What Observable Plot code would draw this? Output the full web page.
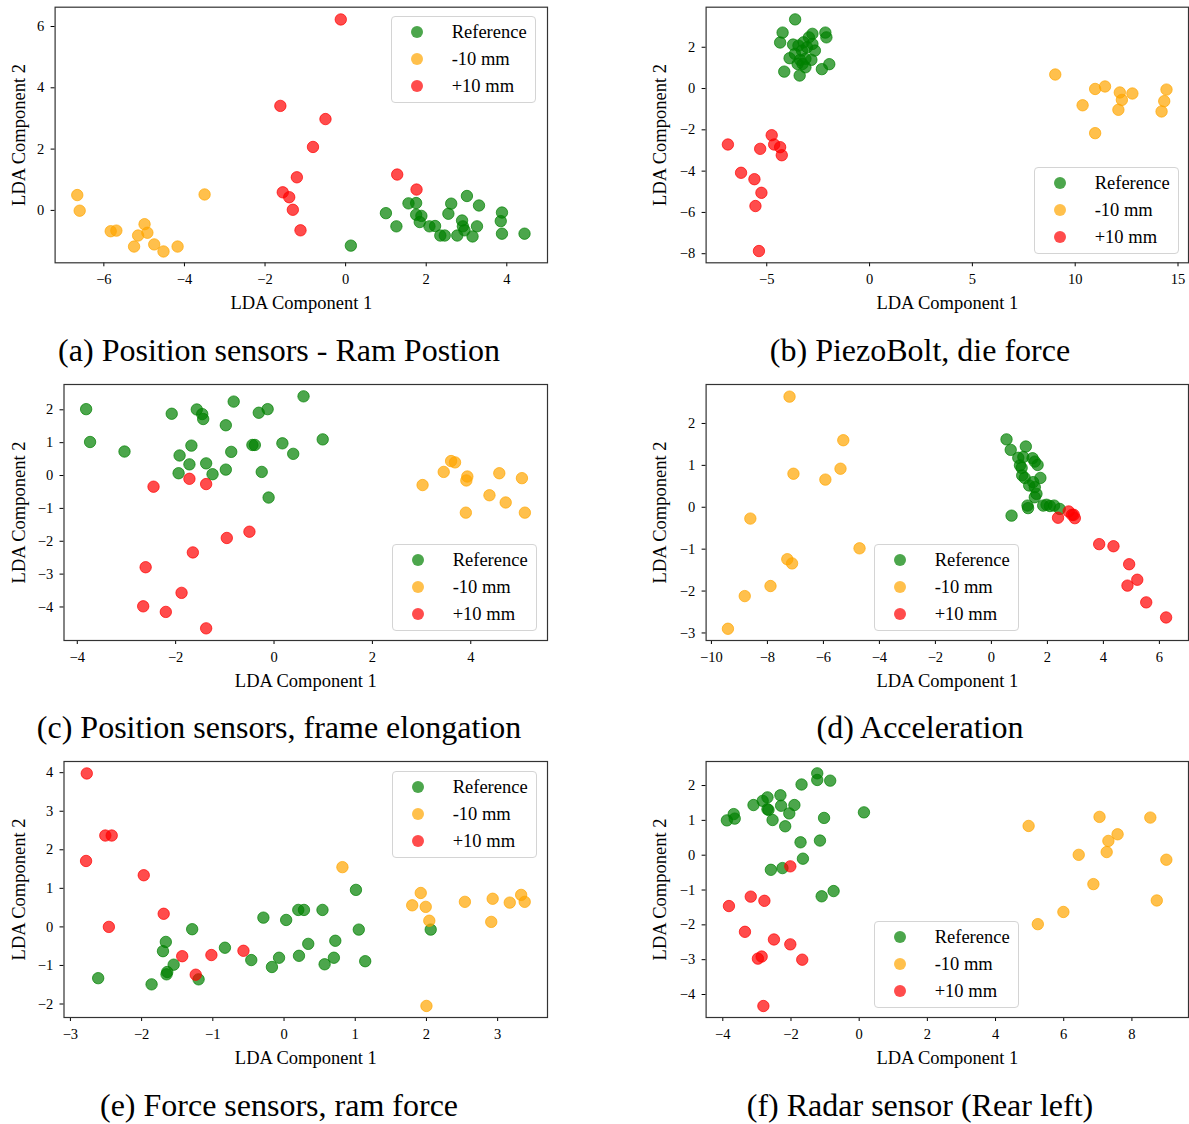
<!DOCTYPE html>
<html><head><meta charset="utf-8">
<script src="https://cdn.jsdelivr.net/npm/d3@7"></script>
<script src="https://cdn.jsdelivr.net/npm/@observablehq/plot@0.6"></script>
<style>
html,body{margin:0;padding:0;background:#fff;}
#fig{position:relative;width:1189px;height:1124px;overflow:hidden;font-family:"Liberation Serif","Times New Roman",serif;color:#000;}
.panel{position:absolute;}
.panel svg{overflow:visible;max-width:none;}
[aria-label="x-axis label"], [aria-label="y-axis label"]{font-size:18.5px;}
.legend{position:absolute;box-sizing:border-box;width:145px;height:87px;border:1px solid #d4d4d4;border-radius:4px;background:rgba(255,255,255,0.8);}
.legend .mk{position:absolute;width:12.4px;height:12.4px;border-radius:50%;}
.legend .lb{position:absolute;font-size:18.5px;white-space:nowrap;line-height:18.5px;}
.cap{position:absolute;width:640px;text-align:center;font-size:32px;line-height:32px;white-space:nowrap;}
</style></head><body><div id="fig"></div>
<script>
// ---------- data (LDA component 1, LDA component 2) ----------
const classes = ["Reference", "-10 mm", "+10 mm"];
const classColors = ["#008000", "#FFA500", "#FF0000"];
const axisLabelX = "LDA Component 1";
const axisLabelY = "LDA Component 2";

const a_ref = [[0.13,-1.15],[1.00,-0.09],[1.26,-0.52],[1.56,0.23],[1.75,0.24],[1.75,-0.14],[1.88,-0.18],[1.84,-0.38],[2.08,-0.52],[2.22,-0.51],[2.35,-0.82],[2.46,-0.82],[2.55,-0.11],[2.62,0.22],[3.01,0.47],[3.31,0.16],[2.89,-0.33],[2.91,-0.52],[2.77,-0.82],[2.95,-0.65],[3.15,-0.85],[3.26,-0.52],[3.88,-0.07],[3.85,-0.35],[3.88,-0.76],[4.44,-0.76]];
const a_m10 = [[-6.66,0.50],[-6.60,-0.01],[-3.50,0.52],[-5.83,-0.68],[-5.69,-0.66],[-4.99,-0.45],[-5.15,-0.82],[-4.92,-0.73],[-5.25,-1.18],[-4.75,-1.11],[-4.52,-1.34],[-4.17,-1.18]];
const a_p10 = [[-0.12,6.23],[-1.62,3.41],[-0.50,2.98],[-0.81,2.07],[-1.21,1.08],[1.28,1.17],[1.76,0.68],[-1.56,0.59],[-1.40,0.43],[-1.31,0.02],[-1.12,-0.65]];

const b_ref = [[-3.62,3.35],[-4.23,2.71],[-4.35,2.23],[-2.15,2.71],[-2.10,2.48],[-1.96,1.18],[-2.32,0.94],[-4.15,0.82],[-3.40,0.63],[-3.89,1.47],[-3.72,2.13],[-2.78,2.65],[-2.95,2.48],[-2.66,1.84],[-2.83,1.39],[-3.12,1.03],[-3.29,1.84],[-3.21,2.24],[-3.46,2.08],[-3.63,1.68],[-3.38,1.39],[-3.12,1.44],[-3.26,1.19],[-3.04,2.00],[-3.50,1.19],[-2.78,2.16]];
const b_m10 = [[9.03,0.68],[10.97,-0.02],[11.45,0.10],[12.17,-0.19],[12.27,-0.55],[12.78,-0.24],[10.36,-0.81],[12.10,-1.03],[10.97,-2.16],[14.44,-0.05],[14.33,-0.61],[14.20,-1.11]];
const b_p10 = [[-6.89,-2.71],[-5.32,-2.92],[-4.76,-2.26],[-4.64,-2.71],[-4.35,-2.84],[-4.27,-3.23],[-6.25,-4.08],[-5.60,-4.39],[-5.26,-5.05],[-5.55,-5.69],[-5.38,-7.87]];

const c_ref = [[-3.82,2.02],[-3.74,1.02],[-3.04,0.73],[-2.08,1.88],[-1.57,2.01],[-1.46,1.87],[-1.44,1.72],[-0.98,1.53],[-0.82,2.25],[-0.31,1.91],[-0.13,2.02],[0.60,2.41],[0.99,1.10],[0.17,0.98],[0.39,0.66],[-0.44,0.93],[-0.39,0.93],[-1.68,0.91],[-1.92,0.61],[-0.87,0.72],[-1.72,0.34],[-1.38,0.37],[-1.94,0.07],[-1.25,0.04],[-0.98,0.18],[-0.25,0.11],[-0.11,-0.67]];
const c_m10 = [[3.02,-0.29],[3.45,0.11],[3.60,0.44],[3.68,0.40],[3.93,-0.03],[3.91,-0.15],[3.90,-1.13],[4.38,-0.60],[4.58,0.07],[4.71,-0.82],[5.04,-0.08],[5.10,-1.13]];
const c_p10 = [[-2.45,-0.34],[-1.72,-0.10],[-1.38,-0.26],[-0.50,-1.71],[-0.96,-1.90],[-1.65,-2.34],[-2.61,-2.79],[-1.88,-3.57],[-2.66,-3.98],[-2.20,-4.15],[-1.38,-4.65]];

const d_ref = [[0.54,1.62],[0.69,1.37],[1.23,1.45],[0.96,1.18],[1.14,1.20],[1.47,1.17],[1.55,1.09],[1.65,1.01],[1.02,1.00],[1.08,0.94],[1.10,0.76],[1.19,0.70],[1.75,0.70],[1.35,0.52],[1.55,0.48],[1.61,0.32],[1.55,0.24],[1.29,0.04],[1.31,-0.02],[1.85,0.04],[1.97,0.06],[2.09,0.03],[2.24,0.04],[2.44,-0.04],[0.72,-0.20],[1.49,0.60]];
const d_m10 = [[-7.21,2.64],[-5.29,1.60],[-5.39,0.92],[-7.07,0.80],[-5.93,0.66],[-8.61,-0.27],[-4.71,-0.98],[-7.29,-1.24],[-7.12,-1.34],[-7.89,-1.88],[-8.81,-2.12],[-9.41,-2.90]];
const d_p10 = [[2.38,-0.25],[2.76,-0.10],[2.88,-0.18],[2.98,-0.26],[2.94,-0.18],[3.85,-0.88],[4.36,-0.93],[4.92,-1.36],[5.21,-1.73],[4.86,-1.87],[5.53,-2.27],[6.24,-2.63]];

const e_ref = [[-2.61,-1.33],[-1.86,-1.49],[-1.66,-0.39],[-1.70,-0.63],[-1.55,-0.98],[-1.64,-1.17],[-1.65,-1.23],[-1.29,-0.06],[-1.20,-1.36],[-0.83,-0.54],[-0.46,-0.86],[-0.29,0.24],[-0.17,-1.04],[-0.07,-0.80],[0.03,0.18],[0.21,-0.75],[0.20,0.44],[0.28,0.44],[0.34,-0.44],[0.54,0.44],[0.57,-0.97],[0.70,-0.80],[0.72,-0.36],[1.01,0.96],[1.05,-0.07],[1.14,-0.89],[2.06,-0.07]];
const e_m10 = [[0.82,1.55],[1.92,0.88],[1.80,0.56],[1.99,0.52],[2.04,0.16],[2.54,0.65],[2.93,0.73],[2.91,0.13],[3.17,0.63],[3.33,0.83],[3.38,0.65],[2.00,-2.05]];
const e_p10 = [[-2.77,3.98],[-2.51,2.37],[-2.42,2.37],[-2.78,1.71],[-1.97,1.34],[-1.69,0.34],[-2.46,0.00],[-1.43,-0.76],[-1.02,-0.73],[-0.57,-0.62],[-1.24,-1.24]];

const f_ref = [[-3.88,1.00],[-3.68,1.18],[-3.65,1.05],[-3.10,1.44],[-2.83,1.56],[-2.69,1.66],[-2.69,1.32],[-2.66,1.30],[-2.54,1.01],[-2.31,1.72],[-2.29,1.42],[-1.90,1.44],[-2.05,1.20],[-2.17,0.83],[-1.69,2.03],[-1.23,2.35],[-1.23,2.16],[-0.85,2.14],[-1.03,1.07],[0.14,1.23],[-1.72,0.37],[-1.15,0.42],[-1.65,-0.10],[-2.59,-0.42],[-2.25,-0.37],[-1.10,-1.18],[-0.75,-1.03]];
const f_m10 = [[4.97,0.84],[5.24,-1.98],[5.99,-1.63],[6.44,0.01],[6.87,-0.83],[7.05,1.10],[7.31,0.41],[7.26,0.09],[7.58,0.60],[8.54,1.08],[8.73,-1.30],[9.01,-0.13]];
const f_p10 = [[-2.02,-0.32],[-3.18,-1.19],[-2.78,-1.31],[-3.82,-1.46],[-3.35,-2.20],[-2.50,-2.42],[-2.02,-2.56],[-2.97,-2.97],[-2.86,-2.91],[-1.67,-3.00],[-2.81,-4.33]];

const a_xticks = [-6,-4,-2,0,2,4],          a_yticks = [0,2,4,6];
const b_xticks = [-5,0,5,10,15],            b_yticks = [-8,-6,-4,-2,0,2];
const c_xticks = [-4,-2,0,2,4],             c_yticks = [-4,-3,-2,-1,0,1,2];
const d_xticks = [-10,-8,-6,-4,-2,0,2,4,6], d_yticks = [-3,-2,-1,0,1,2];
const e_xticks = [-3,-2,-1,0,1,2,3],        e_yticks = [-2,-1,0,1,2,3,4];
const f_xticks = [-4,-2,0,2,4,6,8],         f_yticks = [-4,-3,-2,-1,0,1,2];

const captions = [
  "(a) Position sensors - Ram Postion",
  "(b) PiezoBolt, die force",
  "(c) Position sensors, frame elongation",
  "(d) Acceleration",
  "(e) Force sensors, ram force",
  "(f) Radar sensor (Rear left)"
];

// ---------- layout ----------
const panels = [
  {sets:[a_ref,a_m10,a_p10], xt:a_xticks, yt:a_yticks, xd:[-7.21,5.01], yd:[-1.71,6.63], left:0,   top:0,   w:560, h:320, mL:54.6, mT:6.7, mR:13, mB:57.7, yOff:43.7, leg:[391,16]},
  {sets:[b_ref,b_m10,b_p10], xt:b_xticks, yt:b_yticks, xd:[-7.95,15.51], yd:[-8.44,3.94], left:640, top:0,   w:549, h:320, mL:65.6, mT:6.7, mR:1,  mB:57.7, yOff:53.7, leg:[1034,167]},
  {sets:[c_ref,c_m10,c_p10], xt:c_xticks, yt:c_yticks, xd:[-4.27,5.56], yd:[-5.02,2.77], left:0,   top:377, w:560, h:320, mL:63.5, mT:7,   mR:13, mB:57,   yOff:52.6, leg:[392,544]},
  {sets:[d_ref,d_m10,d_p10], xt:d_xticks, yt:d_yticks, xd:[-10.19,7.04], yd:[-3.18,2.93], left:640, top:377, w:549, h:320, mL:65.6, mT:7,   mR:1,  mB:57,   yOff:53.7, leg:[874,544]},
  {sets:[e_ref,e_m10,e_p10], xt:e_xticks, yt:e_yticks, xd:[-3.09,3.70], yd:[-2.35,4.29], left:0,   top:754, w:560, h:320, mL:63.5, mT:7,   mR:13, mB:57,   yOff:52.6, leg:[392,771]},
  {sets:[f_ref,f_m10,f_p10], xt:f_xticks, yt:f_yticks, xd:[-4.49,9.66], yd:[-4.66,2.69], left:640, top:754, w:549, h:320, mL:65.6, mT:7,   mR:1,  mB:57,   yOff:53.7, leg:[874,921]}
];
const capBaselines = [360.7, 738, 1115.3];
const capCenters = [279, 920];
const fmt = d3.format("~g");

const fig = document.getElementById("fig");
const rgba = (hex, a) => { const c = d3.rgb(hex); return `rgba(${c.r},${c.g},${c.b},${a})`; };

panels.forEach((p, i) => {
  const rows = [];
  p.sets.forEach((set, k) => set.forEach(([x, y]) => rows.push({x, y, c: classes[k]})));
  const chart = Plot.plot({
    width: p.w, height: p.h,
    marginLeft: p.mL, marginTop: p.mT, marginRight: p.mR, marginBottom: p.mB,
    style: {fontFamily: '"Liberation Serif","Times New Roman",serif', fontSize: "14.5px", color: "#000", background: "transparent", overflow: "visible"},
    x: {domain: p.xd, ticks: p.xt, tickFormat: fmt, tickSize: 4, tickPadding: 7, label: axisLabelX, labelAnchor: "center", labelArrow: "none", labelOffset: 46},
    y: {domain: p.yd, ticks: p.yt, tickFormat: fmt, tickSize: 4, tickPadding: 6.8, label: axisLabelY, labelAnchor: "center", labelArrow: "none", labelOffset: p.yOff},
    color: {domain: classes, range: classColors},
    marks: [
      Plot.dot(rows, {x: "x", y: "y", fill: "c", stroke: "c", r: 5.7, fillOpacity: 0.7, strokeOpacity: 0.7, strokeWidth: 1}),
      Plot.frame({stroke: "#333", strokeWidth: 1.2})
    ]
  });
  const div = document.createElement("div");
  div.className = "panel";
  div.style.left = p.left + "px"; div.style.top = p.top + "px";
  div.appendChild(chart);
  fig.appendChild(div);

  // legend
  const lg = document.createElement("div");
  lg.className = "legend";
  lg.style.left = p.leg[0] + "px"; lg.style.top = p.leg[1] + "px";
  classes.forEach((name, k) => {
    const cy = 15.3 + 27 * k;
    const mk = document.createElement("div");
    mk.className = "mk";
    mk.style.left = (25.3 - 6.2) + "px"; mk.style.top = (cy - 6.2) + "px";
    mk.style.background = rgba(classColors[k], 0.7);
    lg.appendChild(mk);
    const lb = document.createElement("div");
    lb.className = "lb";
    lb.textContent = name;
    lb.style.left = "59.7px"; lb.style.top = (cy - 9.8) + "px";
    lg.appendChild(lb);
  });
  fig.appendChild(lg);

  // caption
  const cap = document.createElement("div");
  cap.className = "cap";
  cap.textContent = captions[i];
  cap.style.left = (capCenters[i % 2] - 320) + "px";
  cap.style.top = (capBaselines[Math.floor(i / 2)] - 26.8) + "px";
  fig.appendChild(cap);
});
</script></body></html>
